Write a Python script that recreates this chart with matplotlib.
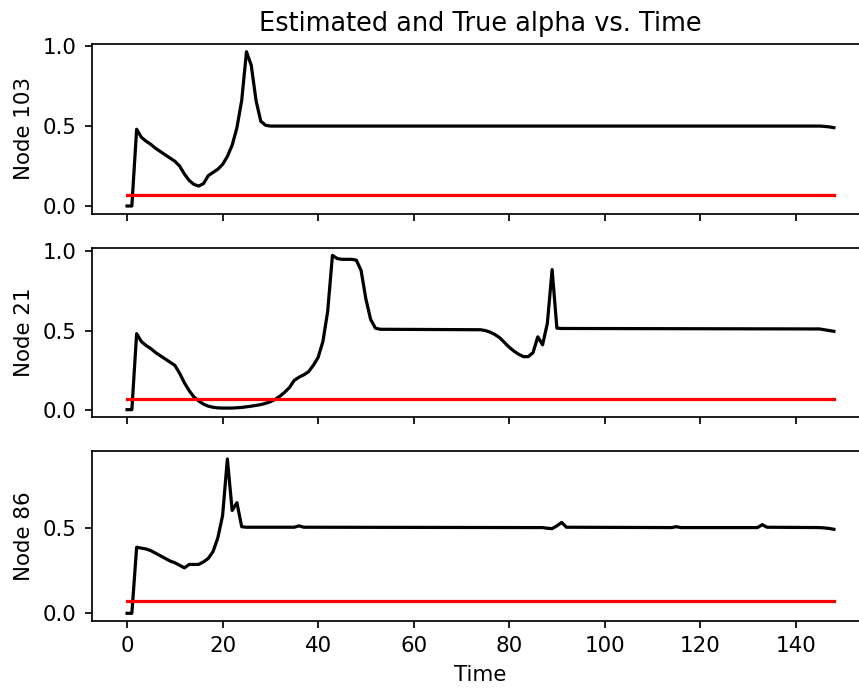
import matplotlib
matplotlib.use("Agg")
import matplotlib.pyplot as plt

# estimated alpha, sampled at the times where the curve changes
node103_time = [0, 1, 2, 3, 4, 5, 6, 7, 8, 9, 10, 11, 12, 13, 14, 15, 16, 17, 18, 19,
                20, 21, 22, 23, 24, 25, 26, 27, 28, 29, 30, 145, 146, 147, 148]
node103_alpha = [0.0, 0.0, 0.48, 0.43, 0.405, 0.385, 0.36, 0.34, 0.32, 0.30,
                 0.28, 0.25, 0.20, 0.16, 0.135, 0.125, 0.14, 0.19, 0.21, 0.23,
                 0.26, 0.31, 0.38, 0.49, 0.66, 0.965, 0.88, 0.66, 0.53, 0.505,
                 0.50, 0.50, 0.498, 0.495, 0.49]

node21_time = [0, 1, 2, 3, 4, 5, 6, 7, 8, 9, 10, 11, 12, 13, 14, 15, 16, 17, 18, 19,
               20, 21, 22, 23, 24, 25, 26, 27, 28, 29, 30, 31, 32, 33, 34, 35, 36, 37,
               38, 39, 40, 41, 42, 43, 44, 45, 46, 47, 48, 49, 50, 51, 52, 53, 74, 75,
               76, 77, 78, 79, 80, 81, 82, 83, 84, 85, 86, 87, 88, 89, 90, 91, 145,
               146, 147, 148]
node21_alpha = [0.0, 0.0, 0.48, 0.43, 0.405, 0.385, 0.36, 0.34, 0.32, 0.30,
                0.28, 0.23, 0.17, 0.12, 0.08, 0.055, 0.035, 0.022, 0.015, 0.011,
                0.01, 0.01, 0.01, 0.012, 0.014, 0.018, 0.022, 0.027, 0.032, 0.04,
                0.05, 0.065, 0.085, 0.11, 0.14, 0.185, 0.205, 0.22, 0.24, 0.28,
                0.33, 0.43, 0.62, 0.975, 0.955, 0.95, 0.95, 0.95, 0.945, 0.88,
                0.70, 0.57, 0.515, 0.508, 0.505, 0.50, 0.49, 0.475, 0.455, 0.425,
                0.395, 0.37, 0.35, 0.335, 0.335, 0.36, 0.46, 0.41, 0.545, 0.885,
                0.515, 0.513, 0.51, 0.505, 0.50, 0.495]

node86_time = [0, 1, 2, 3, 4, 5, 6, 7, 8, 9, 10, 11, 12, 13, 14, 15, 16, 17, 18, 19,
               20, 21, 22, 23, 24, 25, 35, 36, 37, 87, 88, 89, 90, 91, 92, 114, 115,
               116, 132, 133, 134, 145, 146, 147, 148]
node86_alpha = [0.0, 0.0, 0.385, 0.38, 0.375, 0.365, 0.35, 0.335, 0.32, 0.305,
                0.295, 0.28, 0.265, 0.285, 0.285, 0.285, 0.30, 0.32, 0.36, 0.44,
                0.57, 0.90, 0.60, 0.645, 0.505, 0.502, 0.502, 0.51, 0.502, 0.50,
                0.496, 0.494, 0.51, 0.53, 0.502, 0.50, 0.505, 0.50, 0.50, 0.517,
                0.502, 0.50, 0.498, 0.495, 0.49]

true_time = [0, 148]
true_alpha = [0.07, 0.07]

nodes = ["Node 103", "Node 21", "Node 86"]
series_time = [node103_time, node21_time, node86_time]
series_alpha = [node103_alpha, node21_alpha, node86_alpha]
y_ticks = [[0.0, 0.5, 1.0], [0.0, 0.5, 1.0], [0.0, 0.5]]
x_ticks = [0, 20, 40, 60, 80, 100, 120, 140]

fig, axes = plt.subplots(3, 1, sharex=True, figsize=(859 / 154, 690 / 154), dpi=154)
fig.subplots_adjust(left=0.1068, right=1.0119, top=0.9362, bottom=0.1, hspace=0.2)

for ax, name, t, a, yt in zip(axes, nodes, series_time, series_alpha, y_ticks):
    ax.plot(t, a, color="black")
    ax.plot(true_time, true_alpha, color="red")
    ax.set_ylabel(name)
    ax.set_yticks(yt)

axes[0].set_title("Estimated and True alpha vs. Time")
axes[-1].set_xticks(x_ticks)
axes[-1].set_xlabel("Time")

fig.savefig("out.png", dpi=154)
